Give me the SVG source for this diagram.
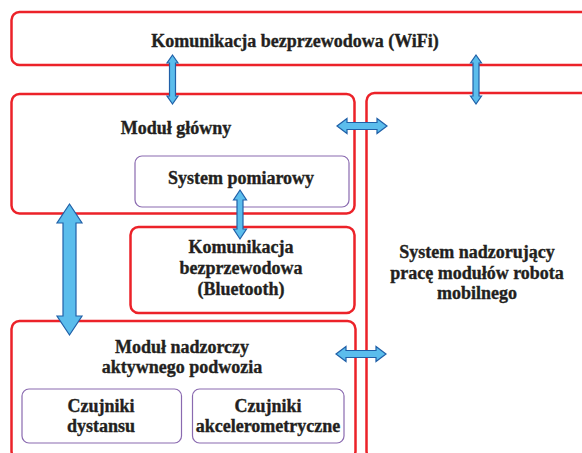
<svg xmlns="http://www.w3.org/2000/svg" width="582" height="453" viewBox="0 0 582 453">
<style>
.box{fill:#fff;stroke:#ec2229;stroke-width:2.5}
.sub{fill:#fff;stroke:#8a6ab0;stroke-width:1.2}
.t{font-family:"Liberation Serif","Times New Roman",serif;font-weight:bold;font-size:18px;fill:#231f20;stroke:#231f20;stroke-width:0.35;text-anchor:middle}
.arr{fill:#5bbdec;stroke:#2060a8;stroke-width:1.2;stroke-linejoin:miter}
</style>
<rect width="582" height="453" fill="#fff"/>
<g id="wifi">
<rect class="box" x="11.5" y="12" width="590" height="53" rx="8"/>
<text class="t" x="295" y="47">Komunikacja bezprzewodowa (WiFi)</text>
</g>
<g id="modul-glowny">
<rect class="box" x="11.5" y="94" width="343" height="119.5" rx="8"/>
<text class="t" x="176" y="134">Moduł główny</text>
</g>
<g id="system-pomiarowy">
<rect class="sub" x="135" y="156" width="214" height="51" rx="7"/>
<text class="t" x="241" y="184">System pomiarowy</text>
</g>
<g id="bluetooth">
<rect class="box" x="130.5" y="227" width="224" height="86" rx="8"/>
<text class="t" x="241" y="253">Komunikacja</text>
<text class="t" x="241" y="274">bezprzewodowa</text>
<text class="t" x="241" y="295">(Bluetooth)</text>
</g>
<g id="system-nadzorujacy">
<rect class="box" x="366.5" y="93" width="240" height="366" rx="8"/>
<text class="t" x="477" y="258">System nadzorujący</text>
<text class="t" x="477" y="279">pracę modułów robota</text>
<text class="t" x="477" y="299">mobilnego</text>
</g>
<g id="modul-nadzorczy">
<rect class="box" x="11.5" y="321" width="344" height="138" rx="8"/>
<text class="t" x="182" y="353">Moduł nadzorczy</text>
<text class="t" x="182" y="373">aktywnego podwozia</text>
</g>
<g id="czujniki-dystansu">
<rect class="sub" x="22" y="389" width="159.5" height="54" rx="7"/>
<text class="t" x="101" y="412">Czujniki</text>
<text class="t" x="101" y="432">dystansu</text>
</g>
<g id="czujniki-akcelerometryczne">
<rect class="sub" x="192.5" y="389" width="151.5" height="54" rx="7"/>
<text class="t" x="268" y="412">Czujniki</text>
<text class="t" x="268" y="432">akcelerometryczne</text>
</g>
<g id="connectors">
<polygon class="arr" points="172.5,55 178,63 175.5,63 175.5,96 178,96 172.5,104 167,96 169.5,96 169.5,63 167,63"/>
<polygon class="arr" points="476,55 481.5,63 479,63 479,96 481.5,96 476,104 470.5,96 473,96 473,63 470.5,63"/>
<polygon class="arr" points="337,126 347,118.5 347,122.5 377,122.5 377,118.5 387,126 377,133.5 377,129.5 347,129.5 347,133.5"/>
<polygon class="arr" points="336,354 346,346.5 346,350.5 376,350.5 376,346.5 386,354 376,361.5 376,357.5 346,357.5 346,361.5"/>
<polygon class="arr" points="240,190 246.5,200 243,200 243,229 246.5,229 240,239 233.5,229 237,229 237,200 233.5,200"/>
<polygon class="arr" points="69.5,204 82,223 76,223 76,316 82,316 69.5,335 57,316 63,316 63,223 57,223"/>
</g>
</svg>
